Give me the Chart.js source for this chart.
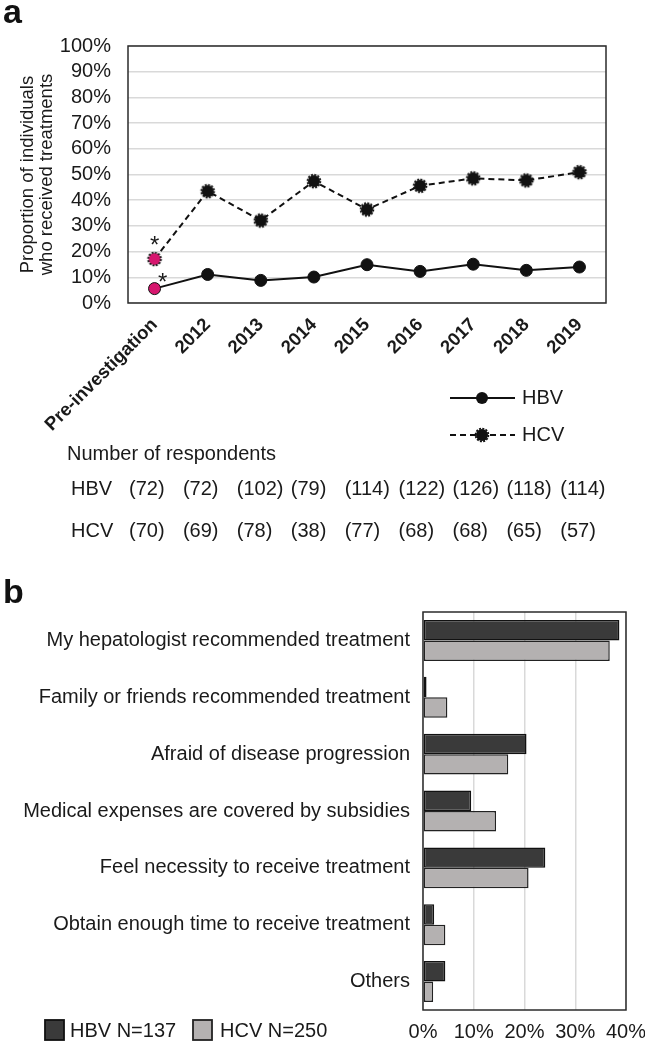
<!DOCTYPE html>
<html>
<head>
<meta charset="utf-8">
<script src="https://cdn.jsdelivr.net/npm/chart.js@4.4.1/dist/chart.umd.min.js"></script>
<style>
  body { margin: 0; background: #fff; }
  #wrap { position: relative; width: 645px; height: 1043px; }
  canvas { display: block; position: absolute; left: 0; }
  #chartA { top: 0; }
  #chartB { top: 560px; }
  .panel { position: absolute; font: bold 34px "Liberation Sans", Arial, sans-serif; color: #111; }
</style>
</head>
<body>
<div id="wrap">
  <canvas id="chartA" width="645" height="560"></canvas>
  <canvas id="chartB" width="645" height="483"></canvas>
  <div class="panel" style="left:3px; top:-8px;">a</div>
  <div class="panel" style="left:3px; top:572px;">b</div>
</div>
<script>
// panel a
const yearLabels = ["Pre-investigation", "2012", "2013", "2014", "2015", "2016", "2017", "2018", "2019"];
const hbvTreated = [5.6, 11.1, 8.8, 10.1, 14.9, 12.3, 15.1, 12.7, 14.0];
const hcvTreated = [17.1, 43.5, 32.1, 47.4, 36.4, 45.6, 48.5, 47.7, 50.9];
const hbvRespondents = [72, 72, 102, 79, 114, 122, 126, 118, 114];
const hcvRespondents = [70, 69, 78, 38, 77, 68, 68, 65, 57];

// panel b
const reasons = [
  "My hepatologist recommended treatment",
  "Family or friends recommended treatment",
  "Afraid of disease progression",
  "Medical expenses are covered by subsidies",
  "Feel necessity to receive treatment",
  "Obtain enough time to receive treatment",
  "Others",
];
const hbvReasons = [38.7, 0.7, 20.4, 9.5, 24.1, 2.2, 4.4];
const hcvReasons = [36.8, 4.8, 16.8, 14.4, 20.8, 4.4, 2.0];

const FONT = '"Liberation Sans", Arial, sans-serif';
const INK = "#1a1a1a";
const PINK = "#d6166e";
Chart.defaults.font.family = FONT;
Chart.defaults.color = INK;

// round marker with a ragged dashed rim (HCV)
function cogMarker(fill) {
  const c = document.createElement("canvas");
  c.width = 18;
  c.height = 18;
  const g = c.getContext("2d");
  g.fillStyle = fill;
  g.beginPath();
  g.arc(9, 9, 6, 0, Math.PI * 2);
  g.fill();
  g.strokeStyle = "#111";
  g.lineWidth = 1.8;
  g.setLineDash([2, 1.3]);
  g.beginPath();
  g.arc(9, 9, 6.4, 0, Math.PI * 2);
  g.stroke();
  return c;
}
const cogBlack = cogMarker("#111");
const cogPink = cogMarker(PINK);

const extrasA = {
  id: "extrasA",
  beforeDatasetsDraw(chart) {
    const { ctx, chartArea: ca } = chart;
    ctx.save();
    ctx.strokeStyle = "#2b2b2b";
    ctx.lineWidth = 1.5;
    ctx.strokeRect(ca.left, ca.top, ca.right - ca.left, ca.bottom - ca.top);
    ctx.restore();
  },
  afterDraw(chart) {
    const { ctx, scales: { x } } = chart;
    ctx.save();
    // asterisks over the pre-investigation points
    ctx.fillStyle = INK;
    ctx.font = "24px " + FONT;
    ctx.textAlign = "center";
    ctx.textBaseline = "alphabetic";
    const p0 = chart.getDatasetMeta(0).data[0];
    const p1 = chart.getDatasetMeta(1).data[0];
    ctx.fillText("*", p0.x + 8, p0.y + 1);
    ctx.fillText("*", p1.x, p1.y - 6);

    // legend
    const ds = chart.data.datasets;
    const rows = [398, 435];
    ds.forEach((d, i) => {
      const y = rows[i];
      ctx.strokeStyle = d.borderColor;
      ctx.lineWidth = d.borderWidth;
      ctx.setLineDash(d.borderDash || []);
      ctx.beginPath();
      ctx.moveTo(450, y);
      ctx.lineTo(515, y);
      ctx.stroke();
      ctx.setLineDash([]);
      if (i === 0) {
        ctx.fillStyle = "#111";
        ctx.beginPath();
        ctx.arc(482, y, 6, 0, Math.PI * 2);
        ctx.fill();
      } else {
        ctx.drawImage(cogBlack, 482 - 9, y - 9);
      }
      ctx.fillStyle = INK;
      ctx.font = "20px " + FONT;
      ctx.textAlign = "left";
      ctx.textBaseline = "middle";
      ctx.fillText(d.label, 522, y);
    });

    // respondents table
    ctx.font = "20px " + FONT;
    ctx.textAlign = "left";
    ctx.textBaseline = "middle";
    ctx.fillText("Number of respondents", 67, 454);
    ctx.fillText("HBV", 71, 489);
    ctx.fillText("HCV", 71, 531);
    const half = (x.getPixelForValue(1) - x.getPixelForValue(0)) / 2;
    hbvRespondents.forEach((n, i) => {
      ctx.fillText("(" + n + ")", x.getPixelForValue(i) - half + 1 + i * 0.8, 489);
    });
    hcvRespondents.forEach((n, i) => {
      ctx.fillText("(" + n + ")", x.getPixelForValue(i) - half + 1 + i * 0.8, 531);
    });
    ctx.restore();
  },
};

new Chart(document.getElementById("chartA"), {
  type: "line",
  data: {
    labels: yearLabels,
    datasets: [
      {
        label: "HBV",
        data: hbvTreated,
        borderColor: "#111",
        borderWidth: 2,
        pointRadius: 6,
        pointStyle: "circle",
        pointBackgroundColor: yearLabels.map((_, i) => (i === 0 ? PINK : "#111")),
        pointBorderColor: "#111",
        pointBorderWidth: 1,
      },
      {
        label: "HCV",
        data: hcvTreated,
        borderColor: "#111",
        borderWidth: 2,
        borderDash: [6, 4],
        pointRadius: 7,
        pointStyle: yearLabels.map((_, i) => (i === 0 ? cogPink : cogBlack)),
      },
    ],
  },
  options: {
    responsive: false,
    animation: false,
    layout: { padding: { left: 0, right: 39, top: 46, bottom: 0 } },
    plugins: { legend: { display: false }, tooltip: { enabled: false } },
    scales: {
      x: {
        offset: true,
        grid: { display: false, drawTicks: false },
        border: { display: false },
        ticks: {
          autoSkip: false,
          minRotation: 45,
          maxRotation: 45,
          padding: 11,
          color: INK,
          font: { size: 18.5, weight: "bold" },
        },
        afterFit(s) {
          s.height = 257;
          s.paddingLeft = 0;
          s.paddingRight = 0;
        },
      },
      y: {
        min: 0,
        max: 100,
        ticks: {
          stepSize: 10,
          autoSkip: false,
          callback: (v) => v + "%",
          padding: 17,
          color: INK,
          font: { size: 20 },
        },
        grid: { color: "#d9d9d9", lineWidth: 1.5, drawTicks: false },
        border: { display: false },
        title: {
          display: true,
          text: ["Proportion of individuals", "who received treatments"],
          color: INK,
          font: { size: 18.5, lineHeight: 1 },
          padding: { top: 19, bottom: 0 },
        },
        afterFit(s) {
          s.width = 128;
        },
      },
    },
  },
  plugins: [extrasA],
});

const extrasB = {
  id: "extrasB",
  beforeDatasetsDraw(chart) {
    const { ctx, chartArea: ca } = chart;
    ctx.save();
    ctx.strokeStyle = "#2b2b2b";
    ctx.lineWidth = 1.5;
    ctx.strokeRect(ca.left, ca.top, ca.right - ca.left, ca.bottom - ca.top);
    ctx.restore();
  },
  afterDraw(chart) {
    const { ctx } = chart;
    const spots = [
      { box: 45, text: 70 },
      { box: 193, text: 220 },
    ];
    ctx.save();
    chart.data.datasets.forEach((d, i) => {
      const s = spots[i];
      ctx.fillStyle = d.backgroundColor;
      ctx.strokeStyle = d.borderColor;
      ctx.lineWidth = 1.8;
      ctx.fillRect(s.box, 460, 19, 20);
      ctx.strokeRect(s.box, 460, 19, 20);
      ctx.fillStyle = INK;
      ctx.font = "20px " + FONT;
      ctx.textAlign = "left";
      ctx.textBaseline = "middle";
      ctx.fillText(d.label, s.text, 471);
    });
    ctx.restore();
  },
};

new Chart(document.getElementById("chartB"), {
  type: "bar",
  data: {
    labels: reasons,
    datasets: [
      {
        label: "HBV N=137",
        data: hbvReasons,
        backgroundColor: "#3a3a3a",
        borderColor: "#111",
        borderWidth: 1.5,
        borderSkipped: false,
        categoryPercentage: 0.72,
        barPercentage: 1,
      },
      {
        label: "HCV N=250",
        data: hcvReasons,
        backgroundColor: "#b4b1b1",
        borderColor: "#222",
        borderWidth: 1.5,
        borderSkipped: false,
        categoryPercentage: 0.72,
        barPercentage: 1,
      },
    ],
  },
  options: {
    indexAxis: "y",
    responsive: false,
    animation: false,
    layout: { padding: { left: 0, right: 19, top: 52, bottom: 0 } },
    plugins: { legend: { display: false }, tooltip: { enabled: false } },
    scales: {
      x: {
        min: 0,
        max: 40,
        ticks: { stepSize: 10, callback: (v) => v + "%", padding: 10, color: INK, font: { size: 20 } },
        grid: { color: "#d9d9d9", lineWidth: 1.5, drawTicks: false },
        border: { display: false },
        afterFit(s) {
          s.height = 33;
          s.paddingLeft = 0;
          s.paddingRight = 0;
        },
      },
      y: {
        grid: { display: false, drawTicks: false },
        border: { display: false },
        ticks: { padding: 13, color: INK, font: { size: 20 } },
        afterFit(s) {
          s.width = 423;
        },
      },
    },
  },
  plugins: [extrasB],
});
</script>
</body>
</html>
